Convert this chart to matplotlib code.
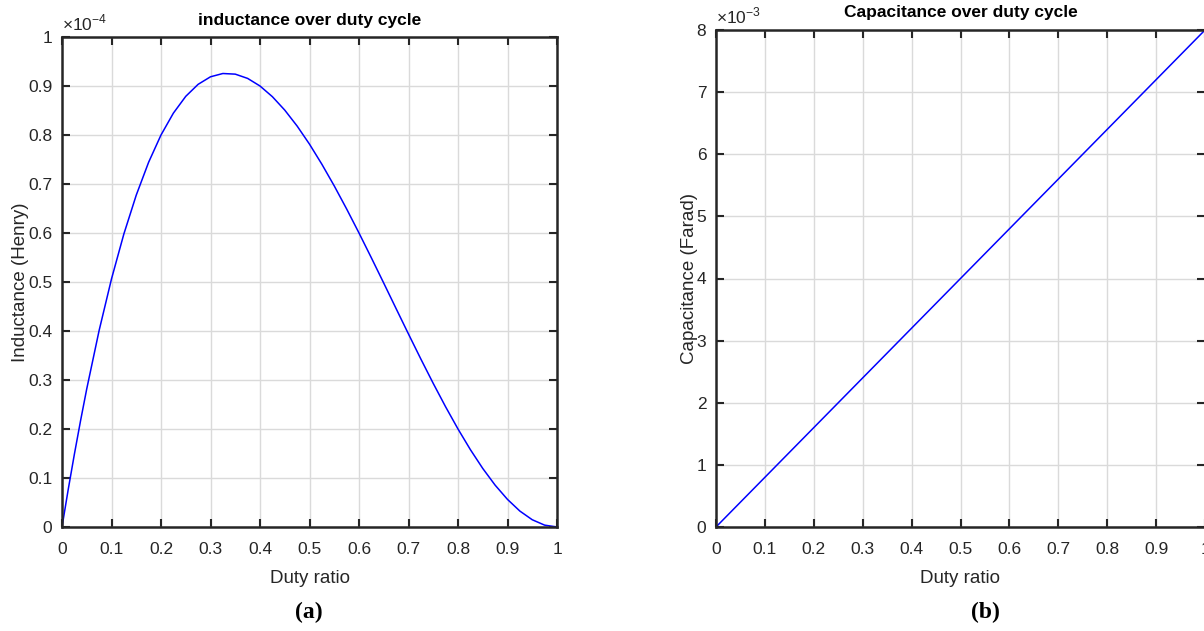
import matplotlib
matplotlib.use("Agg")
import matplotlib.pyplot as plt
from matplotlib import font_manager
import numpy as np

# Inductance (x1e-4 H)
duty_L = [0, 0.0125, 0.025, 0.0375, 0.05, 0.075, 0.1, 0.125, 0.15, 0.175, 0.2, 0.225, 0.25, 0.275,
          0.3, 0.325, 0.35, 0.375, 0.4, 0.425, 0.45, 0.475, 0.5, 0.525, 0.55, 0.575,
          0.6, 0.625, 0.65, 0.675, 0.7, 0.725, 0.75, 0.775, 0.8, 0.825, 0.85, 0.875,
          0.9, 0.925, 0.95, 0.975, 1.0]
inductance = [0, 0.0762, 0.1485, 0.2170, 0.2820, 0.4011, 0.5063, 0.5981, 0.6773, 0.7444, 0.8000, 0.8446,
              0.8789, 0.9034, 0.9188, 0.9255, 0.9242, 0.9155, 0.9000, 0.8782, 0.8508,
              0.8183, 0.7813, 0.7403, 0.6961, 0.6491, 0.6000, 0.5493, 0.4977, 0.4456,
              0.3938, 0.3427, 0.2930, 0.2452, 0.2000, 0.1579, 0.1195, 0.0854, 0.0563,
              0.0325, 0.0148, 0.0038, 0]

# Capacitance (x1e-3 F)
duty_C = [0, 1.0]
capacitance = [0, 8.0]

x_ticks = [0, 0.1, 0.2, 0.3, 0.4, 0.5, 0.6, 0.7, 0.8, 0.9, 1]
x_ticklabels = ["0", "0.1", "0.2", "0.3", "0.4", "0.5", "0.6", "0.7", "0.8", "0.9", "1"]
yL_ticks = [0, 0.1, 0.2, 0.3, 0.4, 0.5, 0.6, 0.7, 0.8, 0.9, 1]
yL_ticklabels = ["0", "0.1", "0.2", "0.3", "0.4", "0.5", "0.6", "0.7", "0.8", "0.9", "1"]
yC_ticks = [0, 1, 2, 3, 4, 5, 6, 7, 8]
yC_ticklabels = ["0", "1", "2", "3", "4", "5", "6", "7", "8"]

names = {f.name for f in font_manager.fontManager.ttflist}
NARROW = ['Liberation Sans Narrow', 'Liberation Sans'] if 'Liberation Sans Narrow' in names else ['Liberation Sans']
plt.rcParams['font.family'] = ['Liberation Sans', 'DejaVu Sans']
plt.rcParams['mathtext.fontset'] = 'custom'
plt.rcParams['mathtext.rm'] = NARROW[0]
W, H = 1204, 631
fig = plt.figure(figsize=(W / 100, H / 100), dpi=100)

def px(l, t, r, b):
    return [l / W, (H - b) / H, (r - l) / W, (b - t) / H]

axL = fig.add_axes(px(62, 37, 557, 527))
axR = fig.add_axes(px(716, 30, 1205, 527))

spine_col = "#262626"
txt_col = "#262626"

def style(ax, yt, ytl, ylabel, title, expo):
    ax.set_xlim(0, 1)
    ax.set_xticks(x_ticks)
    ax.set_xticklabels(x_ticklabels, fontfamily=NARROW, fontsize=12.5)
    ax.set_yticks(yt)
    ax.set_yticklabels(ytl, fontfamily=NARROW, fontsize=12.5)
    ax.set_ylim(yt[0], yt[-1])
    ax.grid(True, color="#dadada", linewidth=1.0)
    ax.set_axisbelow(True)
    for s in ax.spines.values():
        s.set_color(spine_col)
        s.set_linewidth(1.8)
    ax.tick_params(direction="in", length=6, width=1.5, top=True, right=True,
                   colors=spine_col, labelcolor=txt_col)
    ax.tick_params(axis="x", pad=11)
    ax.tick_params(axis="y", pad=7)
    ax.set_xlabel("Duty ratio", fontsize=13.5, fontfamily=NARROW, color=txt_col, labelpad=9)
    ax.set_ylabel(ylabel, fontsize=13.5, color=txt_col, labelpad=-1)
    ax.set_title(title, fontsize=12.5, fontfamily=NARROW, fontweight="bold", color="#000000", pad=9)
    ax.text(0.0, 1.008, r"$\times\mathrm{10}^{%s}$" % expo, transform=ax.transAxes,
            fontsize=12.5, color=txt_col, ha="left", va="bottom")

axL.plot(duty_L, inductance, color="#0000ff", linewidth=1.1)
style(axL, yL_ticks, yL_ticklabels, "Inductance (Henry)", "inductance over duty cycle", "-4")

axR.plot(duty_C, capacitance, color="#0000ff", linewidth=1.1)
style(axR, yC_ticks, yC_ticklabels, "Capacitance (Farad)", "Capacitance over duty cycle", "-3")

fig.text(309 / W, 1 - 612 / H, "(a)", fontsize=17, fontweight="bold",
         fontfamily="Liberation Serif", ha="center", va="center")
fig.text(985 / W, 1 - 612 / H, "(b)", fontsize=17, fontweight="bold",
         fontfamily="Liberation Serif", ha="center", va="center")

fig.savefig("out.png", dpi=100)
